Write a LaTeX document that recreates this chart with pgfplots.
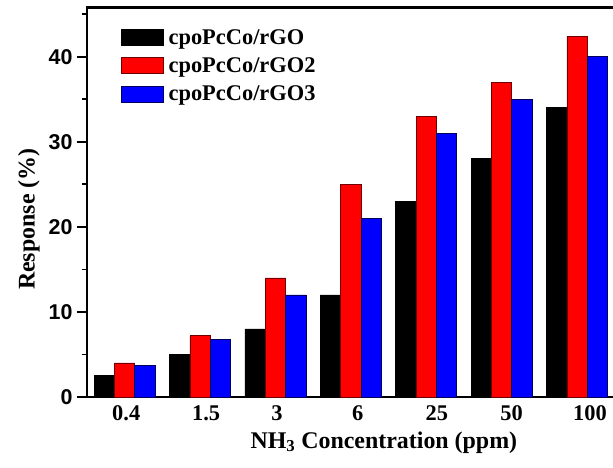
\documentclass[border=0pt]{standalone}
\usepackage{fontspec}
\setmainfont{Liberation Serif}
\newfontfamily\arialfont{Liberation Sans}
\usepackage{pgfplots}
\pgfplotsset{compat=1.18}
\definecolor{barred}{RGB}{255,0,0}
\definecolor{barblue}{RGB}{0,0,255}
\definecolor{edgered}{RGB}{110,0,0}
\definecolor{edgeblue}{RGB}{0,0,90}
\begin{document}
\begin{tikzpicture}
\begin{axis}[
  at={(0,0)}, anchor=south west,
  scale only axis,
  width=527.8bp, height=389.5bp,
  xmin=-0.5, xmax=6.5,
  ymin=0, ymax=45.8,
  ybar, bar width=0.27,
  axis line style={line width=2.5bp},
  tick style={line width=1.8bp, black},
  tick align=outside,
  xtick=\empty,
  minor xtick={0.5,1.5,2.5,3.5,4.5,5.5},
  minor tick length=5bp,
  major tick length=10bp,
  xtick pos=both, ytick pos=left,
  ytick={0,10,20,30,40},
  minor ytick={5,15,25,35,45},
  /pgf/number format/assume math mode=true,
  yticklabel style={font=\arialfont\bfseries\fontsize{21.5}{22}\selectfont, xshift=-1bp},
  extra x ticks={0.02,1.08,2.02,3.09,4.14,5.13,6.17},
  extra x tick labels={0.4,1.5,3,6,25,50,100},
  extra x tick style={major tick length=0pt, xticklabel style={font=\bfseries\fontsize{22.5}{23}\selectfont, yshift=-5bp}},
  xlabel={NH\textsubscript{3} Concentration (ppm)},
  ylabel={Response (\%)},
  xlabel style={font=\bfseries\fontsize{24}{24}\selectfont, xshift=33bp, yshift=6bp},
  ylabel style={font=\bfseries\fontsize{24}{24}\selectfont, xshift=-17bp, yshift=2bp},
  legend style={at={(0.058,0.955)}, anchor=north west, draw=none, fill=none,
    font=\bfseries\fontsize{22.5}{23}\selectfont, row sep=8bp,
    /tikz/every odd column/.append style={column sep=3bp}},
  legend cell align=left,
  legend image code/.code={\draw[#1, line width=0.8bp] (0bp,-8bp) rectangle (42bp,8bp);},
]
\addplot[fill=black, draw=black, line width=0.8bp, bar shift=-0.27] coordinates {(0,2.5) (1,5) (2,8) (3,12) (4,23) (5,28) (6,34)};
\addplot[fill=barred, draw=edgered, line width=0.8bp, bar shift=0] coordinates {(0,4) (1,7.2) (2,14) (3,25) (4,33) (5,37) (6,42.4)};
\addplot[fill=barblue, draw=edgeblue, line width=0.8bp, bar shift=0.27] coordinates {(0,3.7) (1,6.8) (2,12) (3,21) (4,31) (5,35) (6,40)};
\legend{cpoPcCo/rGO, cpoPcCo/rGO2, cpoPcCo/rGO3}
\end{axis}
\pgfresetboundingbox
\path[use as bounding box] (-87bp,-71bp) rectangle (526bp,397bp);
\end{tikzpicture}
\end{document}
